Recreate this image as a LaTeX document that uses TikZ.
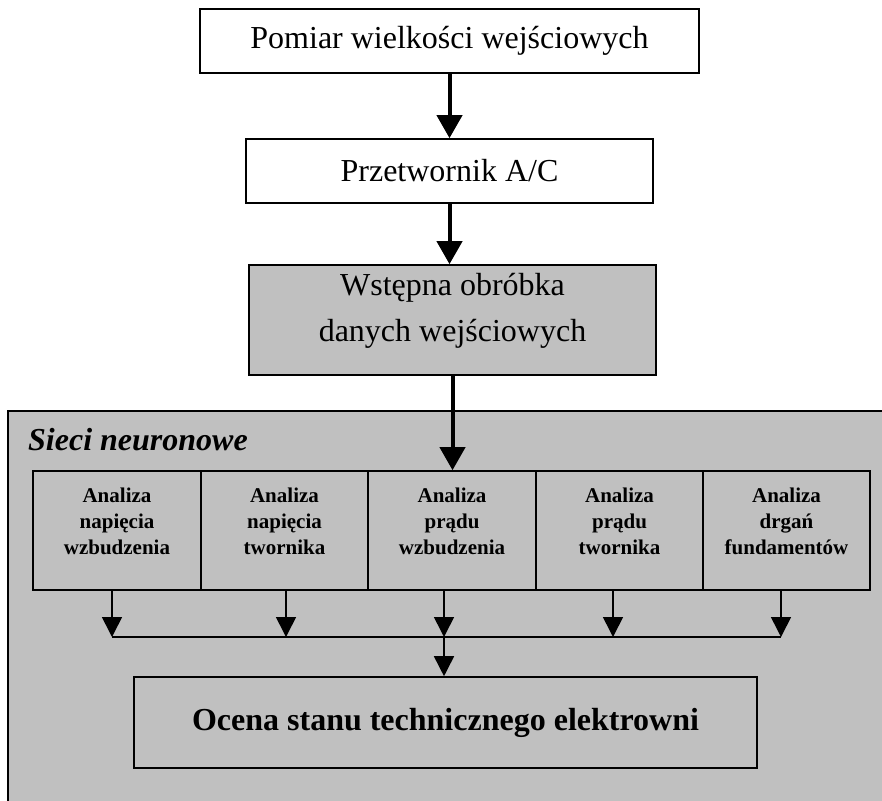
\documentclass[tikz,border=0pt]{standalone}
\usepackage{fontspec}
\setmainfont{Liberation Serif}
\usetikzlibrary{arrows.meta}
\definecolor{boxgray}{RGB}{192,192,192}
\tikzset{
  box/.style={draw=black, line width=1.6pt, inner sep=0pt, font=\fontsize{32}{37}\selectfont},
  graybox/.style={box, fill=boxgray},
  abox/.style={draw=black, line width=1.6pt, inner sep=0pt, minimum height=119pt},
  bigarrow/.style={line width=4pt, -{Triangle[width=25pt,length=23pt]}},
  smallarrow/.style={line width=1.6pt, -{Triangle[width=20pt,length=20pt]}},
  atext/.style={font=\fontsize{21}{26}\selectfont\bfseries, align=center, inner sep=0pt, anchor=north},
  maintext/.style={font=\fontsize{32}{46}\selectfont, align=center, inner sep=0pt, anchor=north},
  busline/.style={line width=1.6pt},
}
\begin{document}
\begin{tikzpicture}[x=1pt,y=-1pt]
\path[use as bounding box, clip] (0,0) rectangle (882,800);
% outer region
\node[draw=black, fill=boxgray, line width=1.6pt, inner sep=0pt, minimum width=893pt, minimum height=410pt, anchor=north west] (sn) at (7,410) {};
\node[font=\fontsize{32}{37}\selectfont\bfseries\itshape, inner sep=0pt, anchor=base west] (snt) at (28,450) {Sieci neuronowe};
% top chain
\node[box, minimum width=499pt, minimum height=64pt] (b1) at (449.5,41) {Pomiar wielkości wejściowych};
\node[box, minimum width=407pt, minimum height=64pt] (b2) at (449.5,171) {Przetwornik A/C};
\node[graybox, minimum width=407pt, minimum height=110pt] (b3) at (452.5,320) {};
\node[maintext] (b3t) at (452.5,273) {Wstępna obróbka\\danych wejściowych};
% analysis boxes
\node[abox, minimum width=168pt] (a1) at (117,530.5) {};
\node[abox, minimum width=167pt] (a2) at (284.5,530.5) {};
\node[abox, minimum width=168pt] (a3) at (452,530.5) {};
\node[abox, minimum width=167pt] (a4) at (619.5,530.5) {};
\node[abox, minimum width=167pt] (a5) at (786.5,530.5) {};
\node[atext] (a1t) at (117,488) {Analiza\\napięcia\\wzbudzenia};
\node[atext] (a2t) at (284.5,488) {Analiza\\napięcia\\twornika};
\node[atext] (a3t) at (452,488) {Analiza\\prądu\\wzbudzenia};
\node[atext] (a4t) at (619.5,488) {Analiza\\prądu\\twornika};
\node[atext] (a5t) at (786.5,488) {Analiza\\drgań\\fundamentów};
% final box
\node[graybox, minimum width=623pt, minimum height=91pt, font=\fontsize{32}{37}\selectfont\bfseries] (oc) at (445.5,722.5) {Ocena stanu technicznego elektrowni};
% bus junctions
\coordinate (j1) at (112,637);
\coordinate (j2) at (286,637);
\coordinate (j3) at (444,637);
\coordinate (j4) at (613,637);
\coordinate (j5) at (781,637);
% connectors
\draw[bigarrow] (b1.south) -- (b2.north);
\draw[bigarrow] (b2.south) -- (b2.south |- b3.north);
\draw[bigarrow] (b3.south) -- (b3.south |- a3.north);
\draw[smallarrow] (a1.south -| j1) -- (j1);
\draw[smallarrow] (a2.south -| j2) -- (j2);
\draw[smallarrow] (a3.south -| j3) -- (j3);
\draw[smallarrow] (a4.south -| j4) -- (j4);
\draw[smallarrow] (a5.south -| j5) -- (j5);
\draw[busline] (j1) -- (j5);
\draw[smallarrow] (j3) -- (j3 |- oc.north);
\end{tikzpicture}
\end{document}
